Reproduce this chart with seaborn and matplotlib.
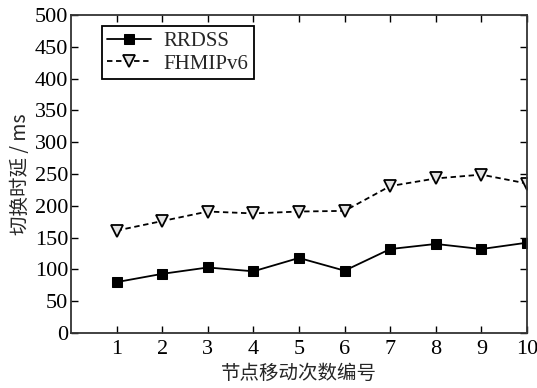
import matplotlib
matplotlib.use("Agg")
import matplotlib.pyplot as plt
import seaborn as sns
import pandas as pd

x_vals = [1, 2, 3, 4, 5, 6, 7, 8, 9, 10]
rrdss = [80, 93, 103, 97, 118, 98, 132, 140, 132, 142]
fhmipv6 = [161, 176, 191, 188, 191, 192, 231, 243, 249, 235]
series_names = ["RRDSS", "FHMIPv6"]
xlabel = "节点移动次数编号"
ylabel = "切换时延 / ms"

sns.set_theme(style="ticks")
plt.rcParams['font.family'] = ['Liberation Serif', 'Noto Sans CJK SC']

df = pd.DataFrame({"x": x_vals * 2,
                   "y": rrdss + fhmipv6,
                   "s": [series_names[0]] * 10 + [series_names[1]] * 10})

fig = plt.figure(figsize=(5.37, 3.88), dpi=100)
ax = fig.add_axes([71/537, 1 - 333/388, (527-71)/537, (333-15)/388])

sns.lineplot(data=df[df.s == series_names[0]], x="x", y="y", ax=ax,
             color="black", lw=1.3, marker="s", markersize=7.5,
             markerfacecolor="black", markeredgecolor="black",
             label=series_names[0])
sns.lineplot(data=df[df.s == series_names[1]], x="x", y="y", ax=ax,
             color="black", lw=1.3, linestyle=(0, (3, 2)), marker="v", markersize=9,
             markerfacecolor="#e4e4e4", markeredgecolor="black", markeredgewidth=1.3,
             label=series_names[1])

ax.set_xlim(0, 10)
ax.set_ylim(0, 500)
ax.set_xticks(x_vals)
ax.set_yticks(range(0, 501, 50))
ax.tick_params(direction="in", top=True, right=True, length=5, width=1,
               labelsize=16, colors="black")
ax.tick_params(axis="x", pad=5)
ax.tick_params(axis="y", pad=2)
for sp in ax.spines.values():
    sp.set_visible(True)
    sp.set_color("#333333")
    sp.set_linewidth(1.3)

ax.set_xlabel(xlabel, fontsize=14, family=['Noto Sans CJK SC'], labelpad=3)
ax.set_ylabel(ylabel, fontsize=14, family=['Noto Sans CJK SC', 'Liberation Serif'], labelpad=3)

leg = ax.legend(loc="upper left", bbox_to_anchor=(0.068, 0.965), fancybox=False,
                edgecolor="black", framealpha=1, fontsize=15, handlelength=2.1,
                borderpad=0.25, labelspacing=0.15, handletextpad=0.6,
                borderaxespad=0, numpoints=1)
leg.get_frame().set_linewidth(1.3)

fig.savefig("out.png", dpi=100)
